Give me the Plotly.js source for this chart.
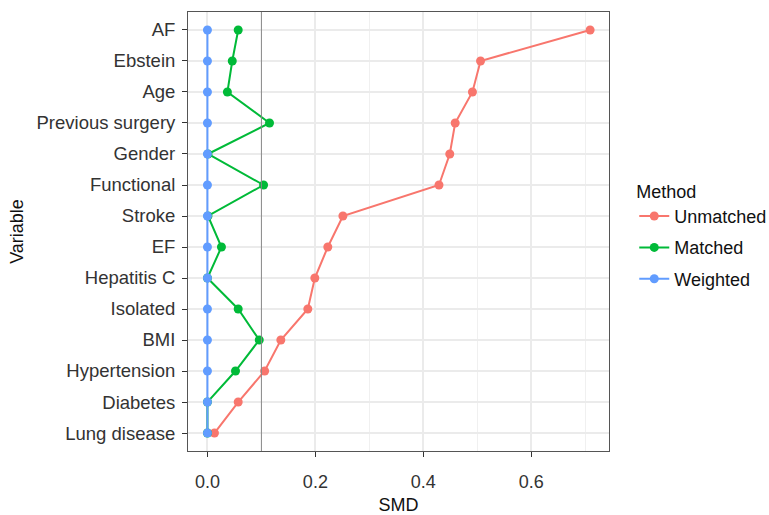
<!DOCTYPE html>
<html>
<head>
<meta charset="utf-8">
<script src="https://cdn.plot.ly/plotly-3.0.1.min.js"></script>
<style>html,body{margin:0;padding:0;background:#fff;}#chart{width:769px;height:515px;}</style>
</head>
<body>
<div id="chart"></div>
<script>
const variables = ["AF","Ebstein","Age","Previous surgery","Gender","Functional","Stroke","EF","Hepatitis C","Isolated","BMI","Hypertension","Diabetes","Lung disease"];
const unmatched = [0.709,0.506,0.491,0.459,0.449,0.429,0.251,0.223,0.199,0.186,0.136,0.106,0.057,0.013];
const matched   = [0.057,0.046,0.037,0.115,0.001,0.104,0.001,0.026,0.000,0.057,0.096,0.052,0.000,0.000];
const weighted  = [0,0,0,0,0,0,0,0,0,0,0,0,0,0];
const seriesNames = ["Unmatched","Matched","Weighted"];
const seriesColors = ["#F8766D","#00BA38","#619CFF"];
const threshold = 0.1;

const FONT = "Liberation Sans, Arial, Helvetica, sans-serif";
const data = [unmatched, matched, weighted].map((vals, i) => ({
  type: "scatter",
  mode: "lines+markers",
  x: vals,
  y: variables,
  name: seriesNames[i],
  legendgroup: "g" + i,
  line: {color: seriesColors[i], width: 2},
  marker: {color: seriesColors[i], size: 9},
  cliponaxis: false
}));

const n = variables.length;
const layout = {
  width: 769, height: 515,
  margin: {l: 188, r: 160, t: 12, b: 64, autoexpand: false},
  paper_bgcolor: "#fff", plot_bgcolor: "#fff",
  font: {family: FONT, size: 18, color: "#333"},
  xaxis: {
    range: [-0.036, 0.744],
    tickvals: [0, 0.2, 0.4, 0.6],
    ticktext: ["0.0","0.2","0.4","0.6"],
    ticks: "outside", ticklen: 5, tickcolor: "#333", tickwidth: 1,
    ticklabelstandoff: 9,
    showgrid: true, gridcolor: "#ebebeb", gridwidth: 2,
    minor: {tickvals: [0.1,0.3,0.5,0.7], showgrid: true, gridcolor: "#f0f0f0", gridwidth: 1, ticks: ""},
    zeroline: false,
    showline: true, mirror: true, linecolor: "#555", linewidth: 1,
    tickfont: {size: 18, color: "#333"},
    title: {text: "SMD", font: {size: 18, color: "#111"}, standoff: 8}
  },
  yaxis: {
    type: "category",
    categoryorder: "array", categoryarray: variables,
    range: [n - 1 + 0.58, -0.58],
    ticks: "outside", ticklen: 5, tickcolor: "#333", tickwidth: 1,
    showgrid: true, gridcolor: "#ebebeb", gridwidth: 2,
    zeroline: false,
    showline: true, mirror: true, linecolor: "#555", linewidth: 1,
    tickfont: {size: 18.5, color: "#333"},
    ticklabelstandoff: 3,
    title: {text: "Variable", font: {size: 18, color: "#111"}, standoff: 8}
  },
  shapes: [{
    type: "line", xref: "x", yref: "paper", x0: threshold, x1: threshold, y0: 0, y1: 1,
    line: {color: "#888", width: 1}
  }],
  legend: {
    x: 1.06, xanchor: "left", y: 0.49, yanchor: "middle",
    traceorder: "grouped", tracegroupgap: 5,
    title: {text: "Method", font: {size: 18, color: "#111"}},
    font: {size: 18, color: "#111"},
    bgcolor: "rgba(0,0,0,0)"
  },
  showlegend: true
};

Plotly.newPlot("chart", data, layout, {displayModeBar: false, staticPlot: true});
</script>
</body>
</html>
